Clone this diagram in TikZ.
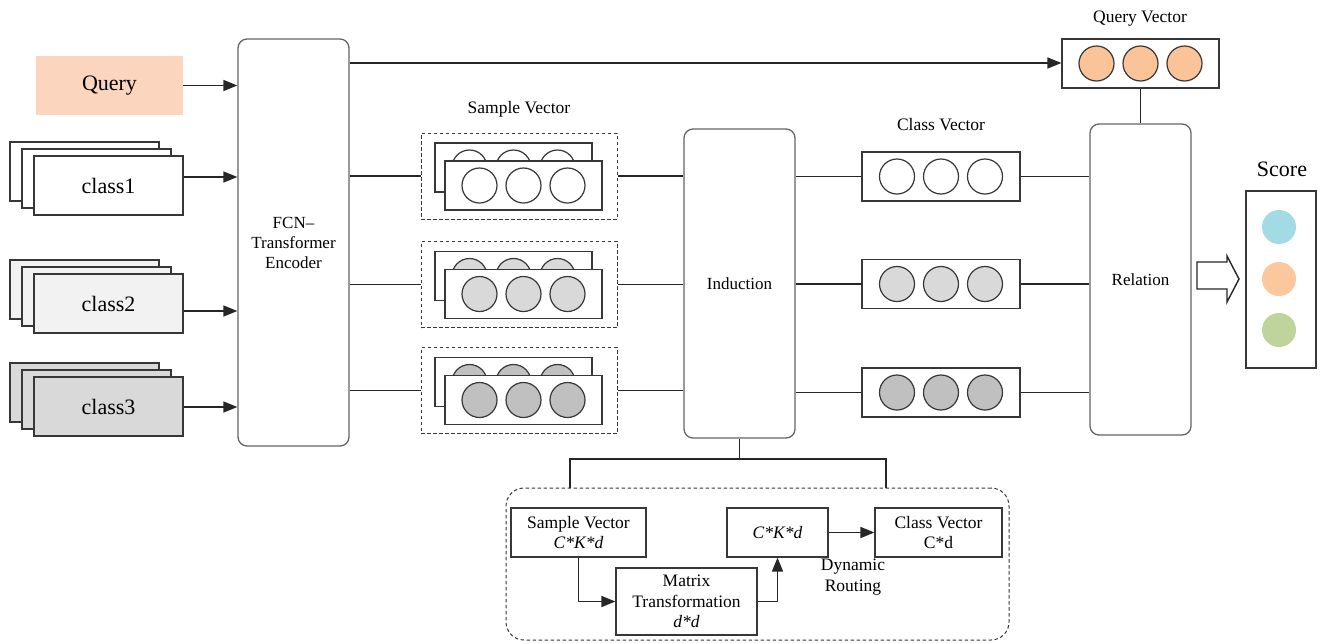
\documentclass[tikz,border=0pt]{standalone}
\usepackage{fontspec}
\setmainfont{Liberation Serif}
\usetikzlibrary{arrows.meta}

\definecolor{querybg}{RGB}{252,213,190}
\definecolor{qdot}{RGB}{251,196,152}
\definecolor{scyan}{RGB}{163,219,229}
\definecolor{speach}{RGB}{251,200,158}
\definecolor{sgreen}{RGB}{190,212,155}
\definecolor{greyA}{RGB}{242,242,242}
\definecolor{greyB}{RGB}{217,217,217}
\definecolor{greyC}{RGB}{192,192,192}
\definecolor{edge}{RGB}{55,55,55}
\definecolor{redge}{RGB}{100,100,100}

\tikzset{
  box/.style={draw=edge, line width=1.2pt, fill=white, inner sep=0pt},
  rbox/.style={draw=redge, line width=1.3pt, fill=white, rounded corners=9pt, inner sep=0pt},
  dashbox/.style={draw=edge, line width=1pt, dash pattern=on 3.5pt off 2.5pt, inner sep=0pt},
  conn/.style={draw=black!85, line width=1.6pt},
  arr/.style={conn, -{Triangle[length=14pt,width=11pt]}},
  dotc/.style={draw=edge, line width=1.2pt},
  big/.style={font=\fontsize{22}{24}\selectfont},
  mid/.style={font=\fontsize{17}{20}\selectfont, align=center},
  low/.style={font=\fontsize{17.5}{20.5}\selectfont, align=center},
}

% three circles of a vector, centred on (x,y)
\newcommand{\dotrow}[3]{%
  \foreach \dx in {-44,0,44}{\draw[dotc, fill=#3] ({#1+\dx},#2) circle[radius=17.5pt];}}

% one stacked sample-vector group inside a dashed frame
\newcommand{\samplegroup}[3]{%
  \node[dashbox, minimum width=196pt, minimum height=86pt] (#1) at (519,#2) {};
  \node[box, minimum width=157pt, minimum height=49pt] (#1b) at (513.5,#2-8.5) {};
  \dotrow{513.5}{#2-8.5}{#3}
  \node[box, minimum width=157pt, minimum height=49pt] (#1f) at (523.5,#2+9.5) {};
  \dotrow{523.5}{#2+9.5}{#3}}

% stacked class cards, front card centred on (108.5,y)
\newcommand{\classstack}[4]{%
  \node[box, fill=#3, minimum width=149pt, minimum height=59pt] (#1c) at (84.5,#2-14) {};
  \node[box, fill=#3, minimum width=149pt, minimum height=59pt] (#1b) at (96.5,#2-7) {};
  \node[box, fill=#3, minimum width=149pt, minimum height=59pt, big] (#1) at (108.5,#2) {#4};}

\begin{document}
\begin{tikzpicture}[x=1pt,y=-1pt]
\useasboundingbox (0,0) rectangle (1321,643);

% inputs
\node[fill=querybg, minimum width=147pt, minimum height=59pt, inner sep=0pt, big] (q) at (109.5,85.5) {Query};
\classstack{c1}{185.5}{white}{class1}
\classstack{c2}{303.5}{greyA}{class2}
\classstack{c3}{406.5}{greyB}{class3}

% encoder
\node[rbox, minimum width=111pt, minimum height=407pt, mid] (enc) at (293.5,242.5) {FCN–\\Transformer\\Encoder};

\draw[arr] (q.east) -- (enc.west |- q.east);
\draw[arr] (c1.east |- 0,177) -- (enc.west |- 0,177);
\draw[arr] (c2.east |- 0,311) -- (enc.west |- 0,311);
\draw[arr] (c3.east |- 0,407) -- (enc.west |- 0,407);

% sample vectors
\node[low] (svlab) at (519,109) {Sample Vector};
\samplegroup{sa}{176}{white}
\samplegroup{sb}{284.5}{greyB}
\samplegroup{sc}{390.5}{greyC}

% induction
\node[rbox, minimum width=111pt, minimum height=309pt, mid] (ind) at (739.5,283.5) {Induction};

% class vectors
\node[low] (cvlab) at (941,125) {Class Vector};
\node[box, minimum width=158pt, minimum height=49pt] (cva) at (941,176.5) {};
\dotrow{941}{176.5}{white}
\node[box, minimum width=158pt, minimum height=49pt] (cvb) at (941,284) {};
\dotrow{941}{284}{greyB}
\node[box, minimum width=158pt, minimum height=49pt] (cvc) at (941,392.5) {};
\dotrow{941}{392.5}{greyC}

% relation
\node[rbox, minimum width=101pt, minimum height=311pt, mid] (rel) at (1140.5,279.5) {Relation};

% query vector
\node[low] (qvlab) at (1140,19) {Query Vector};
\node[box, minimum width=157pt, minimum height=49pt] (qv) at (1140.5,63.5) {};
\dotrow{1140.5}{63.5}{qdot}

% score
\node[font=\fontsize{22}{24}\selectfont] (sclab) at (1282,169) {Score};
\node[box, minimum width=70pt, minimum height=177pt] (score) at (1281,279.5) {};
\fill[scyan] (1279,227) circle[radius=17pt];
\fill[speach] (1279,279) circle[radius=17pt];
\fill[sgreen] (1279,330) circle[radius=17pt];

% connectors of the main row
\draw[arr] (enc.east |- 0,63) -- (qv.west |- 0,63);
\foreach \s in {sa,sb,sc}{
  \draw[conn] (enc.east |- \s.west) -- (\s.west);
  \draw[conn] (\s.east) -- (ind.west |- \s.east);
}
\foreach \c in {cva,cvb,cvc}{
  \draw[conn] (ind.east |- \c.west) -- (\c.west);
  \draw[conn] (\c.east) -- (rel.west |- \c.east);
}
\draw[conn] (qv.south) -- (rel.north);

% output arrow
\draw[draw=black!85, line width=1.4pt, fill=white]
  (1197,262) -- (1227,262) -- (1227,256) -- (1239,279) -- (1227,302) -- (1227,289) -- (1197,289) -- cycle;

% induction detail
\node[dashbox, rounded corners=18pt, minimum width=503pt, minimum height=152pt] (detail) at (757.5,564) {};
\coordinate (jl) at (570,459);
\coordinate (jr) at (886,459);
\draw[conn] (ind.south) -- (ind.south |- jl);
\draw[conn] (jl |- detail.north) -- (jl) -- (jr) -- (jr |- detail.north);

\node[box, minimum width=135pt, minimum height=49pt, low] (dsv) at (578.5,532.5) {Sample Vector\\\textit{C*K*d}};
\node[box, minimum width=141pt, minimum height=67pt, low] (dmt) at (686.5,601.5) {Matrix\\Transformation\\\textit{d*d}};
\node[box, minimum width=101pt, minimum height=49pt, low] (dck) at (777.5,532.5) {\textit{C*K*d}};
\node[box, minimum width=127pt, minimum height=49pt, low] (dcv) at (938.5,532.5) {Class Vector\\C*d};
\node[low] (drl) at (853,577) {Dynamic\\Routing};

\draw[arr] (dsv.south) |- (dmt.west);
\draw[arr] (dmt.east) -| (dck.south);
\draw[arr] (dck.east) -- (dcv.west);
\end{tikzpicture}
\end{document}
